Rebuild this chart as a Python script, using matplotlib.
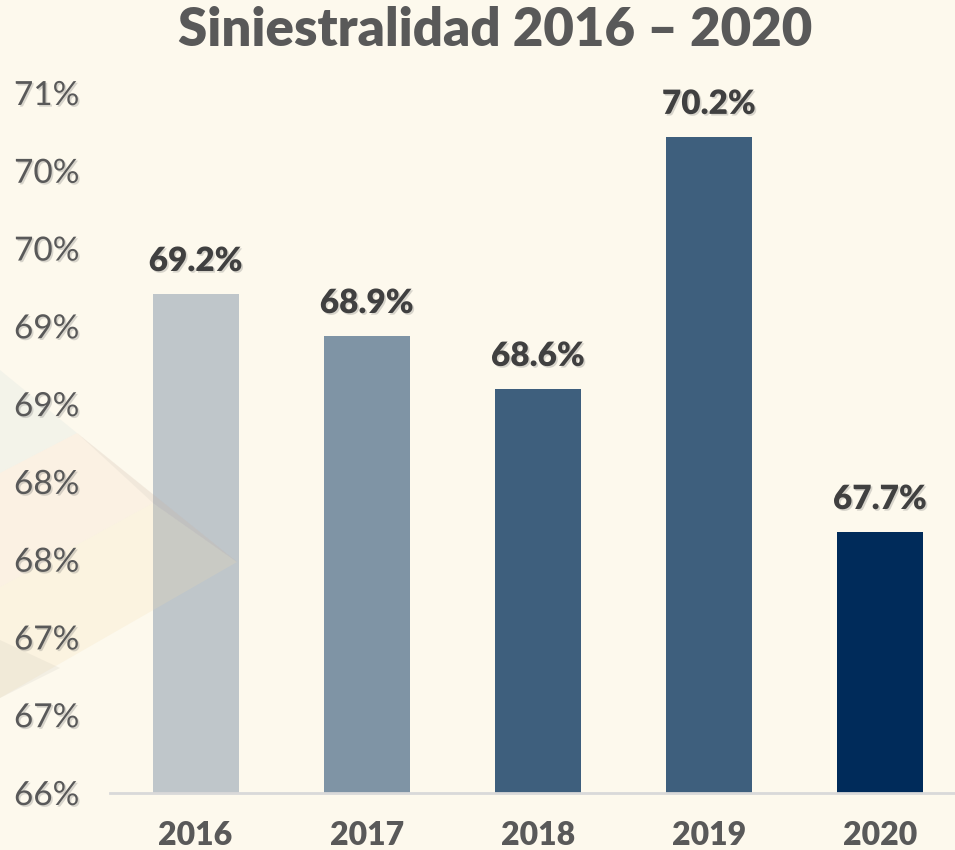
import matplotlib.pyplot as plt
import matplotlib.patheffects as pe
from matplotlib.patches import Polygon
import numpy as np

# Datos
anios = ['2016', '2017', '2018', '2019', '2020']
siniestralidad = [69.21, 68.94, 68.60, 70.22, 67.68]
etiquetas = ['69.2%', '68.9%', '68.6%', '70.2%', '67.7%']
colores = ['#BFC6CA', '#7F94A5', '#3E5F7D', '#3E5F7D', '#002B5A']
ticks_y = [66.0, 66.5, 67.0, 67.5, 68.0, 68.5, 69.0, 69.5, 70.0, 70.5]

fondo = '#FDF9ED'
gris = '#595959'
plt.rcParams['font.family'] = ['Lato', 'DejaVu Sans']

W, H = 955, 850
fig = plt.figure(figsize=(W / 100, H / 100), dpi=100, facecolor=fondo)
ax = fig.add_axes([110 / W, 1 - 793 / H, 1 - 110 / W, (793 - 93) / H])
ax.set_facecolor('none')

x = np.arange(len(anios))
ax.bar(x, [v - 66 for v in siniestralidad], bottom=66, width=0.503, color=colores, zorder=2)

sombra = [pe.SimplePatchShadow(offset=(1.2, -1.2), shadow_rgbFace='#666666', alpha=0.25), pe.Normal()]

for xi, v, t in zip(x, siniestralidad, etiquetas):
    ax.annotate(t, (xi, v), xytext=(0, 12), textcoords='offset points',
                ha='center', va='bottom', fontsize=24, fontweight='heavy',
                color='#404040', path_effects=sombra, zorder=4)

ax.set_xlim(-0.5, (W - 196) / 171)
ax.set_ylim(66, 70.5)
ax.set_yticks(ticks_y)
# redondeo al estilo Excel (0.5 hacia arriba)
ax.set_yticklabels([f'{int(np.floor(t + 0.5))}%' for t in ticks_y])
ax.set_xticks(x)
ax.set_xticklabels(anios)

ax.tick_params(axis='y', length=0, pad=22, labelsize=24, labelcolor=gris)
ax.tick_params(axis='x', length=0, pad=20, labelsize=23, labelcolor=gris)
for lbl in ax.get_yticklabels():
    lbl.set_path_effects(sombra)
for lbl in ax.get_xticklabels():
    lbl.set_fontweight('heavy')
ax.yaxis.set_zorder(3)
ax.xaxis.set_zorder(3)

for s in ['top', 'right', 'left']:
    ax.spines[s].set_visible(False)
ax.spines['bottom'].set_color('#D9D9D9')
ax.spines['bottom'].set_linewidth(2)
ax.spines['bottom'].set_zorder(3)

# Triángulos decorativos del fondo (coordenadas en píxeles de la figura)
def px(pts):
    return [(a / W, 1 - b / H) for a, b in pts]

formas = [
    ([(0, 370), (77, 433), (0, 473)], '#C9D8DA', 0.18),
    ([(0, 473), (77, 433), (237, 562), (153, 503), (0, 587)], '#F0C4AC', 0.14),
    ([(0, 587), (153, 503), (237, 562), (0, 698)], '#F3DCAE', 0.20),
    ([(0, 640), (60, 668), (0, 698)], '#BDB8B0', 0.15),
    ([(77, 433), (237, 562), (153, 503)], '#A0A098', 0.10),
]
for pts, c, a in formas:
    ax.add_patch(Polygon(px(pts), closed=True, transform=fig.transFigure, clip_on=False,
                         facecolor=c, edgecolor='none', alpha=a, zorder=2.5))

fig.text(495 / W, 1 - 30 / H, 'Siniestralidad 2016 – 2020', ha='center', va='center',
         fontsize=38, fontweight='heavy', color=gris)

fig.savefig('out.png', dpi=100, facecolor=fondo)
